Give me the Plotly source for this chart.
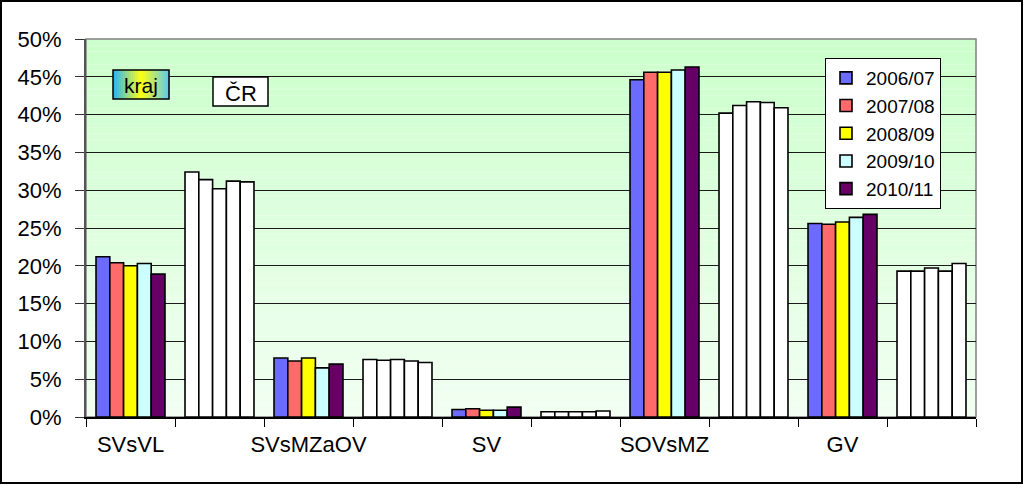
import plotly.graph_objects as go

# ---- data ----
categories = ["SVsVL", "SVsVL_CR", "SVsMZaOV", "SVsMZaOV_CR", "SV", "SV_CR",
              "SOVsMZ", "SOVsMZ_CR", "GV", "GV_CR"]
tick_labels = ["SVsVL", "", "SVsMZaOV", "", "SV", "", "SOVsMZ", "", "GV", ""]
years = ["2006/07", "2007/08", "2008/09", "2009/10", "2010/11"]
year_colors = ["#6b6bff", "#ff6b6b", "#ffff00", "#ccffff", "#660066"]

# kraj values (%) per group [SVsVL, SVsMZaOV, SV, SOVsMZ, GV]
kraj = {
    "2006/07": [21.2, 7.8, 1.0, 44.6, 25.6],
    "2007/08": [20.4, 7.4, 1.1, 45.6, 25.5],
    "2008/09": [20.0, 7.8, 0.9, 45.6, 25.8],
    "2009/10": [20.3, 6.5, 0.9, 45.9, 26.4],
    "2010/11": [18.9, 7.0, 1.3, 46.3, 26.8],
}
# ČR values (%)
cr = {
    "2006/07": [32.4, 7.6, 0.7, 40.2, 19.3],
    "2007/08": [31.4, 7.5, 0.7, 41.2, 19.3],
    "2008/09": [30.2, 7.6, 0.7, 41.7, 19.7],
    "2009/10": [31.2, 7.4, 0.7, 41.6, 19.3],
    "2010/11": [31.1, 7.2, 0.8, 40.9, 20.3],
}
y_ticks = [0, 5, 10, 15, 20, 25, 30, 35, 40, 45, 50]
y_tick_labels = ["0%", "5%", "10%", "15%", "20%", "25%", "30%", "35%", "40%", "45%", "50%"]

# ---- layout geometry (pixels) ----
W, H = 1024, 486
ML, MR, MT, MB = 86, 48, 39, 69
PW, PH = W - ML - MR, H - MT - MB


def px_x(p):
    return (p - ML) / PW


def px_y(p):
    return (H - MB - p) / PH


fig = go.Figure()
for i, yr in enumerate(years):
    vals, cols = [], []
    for g in range(5):
        vals += [kraj[yr][g], cr[yr][g]]
        cols += [year_colors[i], "#ffffff"]
    fig.add_trace(go.Bar(
        x=categories, y=vals, name=yr,
        marker=dict(color=cols, line=dict(color="#000000", width=1.6)),
    ))

shapes = []
# gradient plot background
N = 60
top = (204, 255, 204)
bot = (242, 255, 242)
for k in range(N):
    t = k / (N - 1)
    c = tuple(round(top[j] + (bot[j] - top[j]) * t) for j in range(3))
    shapes.append(dict(type="rect", xref="paper", yref="paper",
                       x0=0, x1=1, y0=1 - (k + 1) / N, y1=1 - k / N,
                       fillcolor="rgb(%d,%d,%d)" % c, line=dict(width=0),
                       layer="below"))
# plot area border (top/right grey)
shapes.append(dict(type="rect", xref="paper", yref="paper", x0=0, x1=1, y0=0, y1=1,
                   line=dict(color="#808080", width=1.5), fillcolor="rgba(0,0,0,0)",
                   layer="below"))
# kraj box gradient
kx0, kx1, ky0, ky1 = 113, 169, 70, 99
stops = [(0.0, (40, 180, 245)), (0.5, (255, 255, 20)), (1.0, (90, 200, 250))]
M = 28
for k in range(M):
    t = (k + 0.5) / M
    for s in range(len(stops) - 1):
        if stops[s][0] <= t <= stops[s + 1][0]:
            a, ca = stops[s]
            b, cb = stops[s + 1]
            u = (t - a) / (b - a)
            c = tuple(round(ca[j] + (cb[j] - ca[j]) * u) for j in range(3))
    xa = kx0 + (kx1 - kx0) * k / M
    xb = kx0 + (kx1 - kx0) * (k + 1) / M
    shapes.append(dict(type="rect", xref="paper", yref="paper",
                       x0=px_x(xa), x1=px_x(xb) + 0.0005, y0=px_y(ky1), y1=px_y(ky0),
                       fillcolor="rgb(%d,%d,%d)" % c, line=dict(width=0), layer="above"))
shapes.append(dict(type="rect", xref="paper", yref="paper",
                   x0=px_x(kx0), x1=px_x(kx1), y0=px_y(ky1), y1=px_y(ky0),
                   fillcolor="rgba(0,0,0,0)", line=dict(color="#000", width=1.5), layer="above"))
# ČR box
shapes.append(dict(type="rect", xref="paper", yref="paper",
                   x0=px_x(213), x1=px_x(268), y0=px_y(106), y1=px_y(77),
                   fillcolor="#ffffff", line=dict(color="#000", width=1.5), layer="above"))
# outer chart border
shapes.append(dict(type="rect", xref="paper", yref="paper",
                   x0=px_x(1), x1=px_x(1022), y0=px_y(483), y1=px_y(1),
                   fillcolor="rgba(0,0,0,0)", line=dict(color="#000", width=2), layer="above"))

annotations = [
    dict(text="kraj", xref="paper", yref="paper", x=px_x((kx0 + kx1) / 2), y=px_y((ky0 + ky1) / 2 + 1),
         xanchor="center", yanchor="middle",
         showarrow=False, font=dict(family="Liberation Sans, Arial", size=21, color="#000")),
    dict(text="ČR", xref="paper", yref="paper", x=px_x(240.5), y=px_y(93),
         xanchor="center", yanchor="middle",
         showarrow=False, font=dict(family="Liberation Sans, Arial", size=22, color="#000")),
]

fig.update_layout(
    width=W, height=H,
    margin=dict(l=ML, r=MR, t=MT, b=MB, pad=0, autoexpand=False),
    paper_bgcolor="#ffffff", plot_bgcolor="rgba(0,0,0,0)",
    barmode="group", bargap=0.225, bargroupgap=0,
    font=dict(family="Liberation Sans, Arial", size=21, color="#000"),
    showlegend=True,
    legend=dict(x=px_x(825), y=px_y(58), xanchor="left", yanchor="top",
                bgcolor="#ffffff", bordercolor="#000", borderwidth=1,
                font=dict(size=19), tracegroupgap=0, itemwidth=30),
    shapes=shapes, annotations=annotations,
    xaxis=dict(type="category", categoryorder="array", categoryarray=categories,
               tickmode="array", tickvals=categories, ticktext=tick_labels,
               tickson="boundaries", ticks="outside", ticklen=8, tickcolor="#000",
               tickangle=0, automargin=False, ticklabelstandoff=7,
               showline=True, linecolor="#000", linewidth=1.5, showgrid=False,
               range=[-0.5, 9.5], tickfont=dict(size=22)),
    yaxis=dict(range=[0, 50], tickmode="array", tickvals=y_ticks, ticktext=y_tick_labels,
               ticks="outside", automargin=False, ticklabelstandoff=9,
               ticklen=9, tickcolor="#333", showline=True, linecolor="#555", linewidth=2,
               showgrid=True, gridcolor="#1a1a1a", gridwidth=1, zeroline=False,
               tickfont=dict(size=22)),
)

fig.write_html("out.html")
